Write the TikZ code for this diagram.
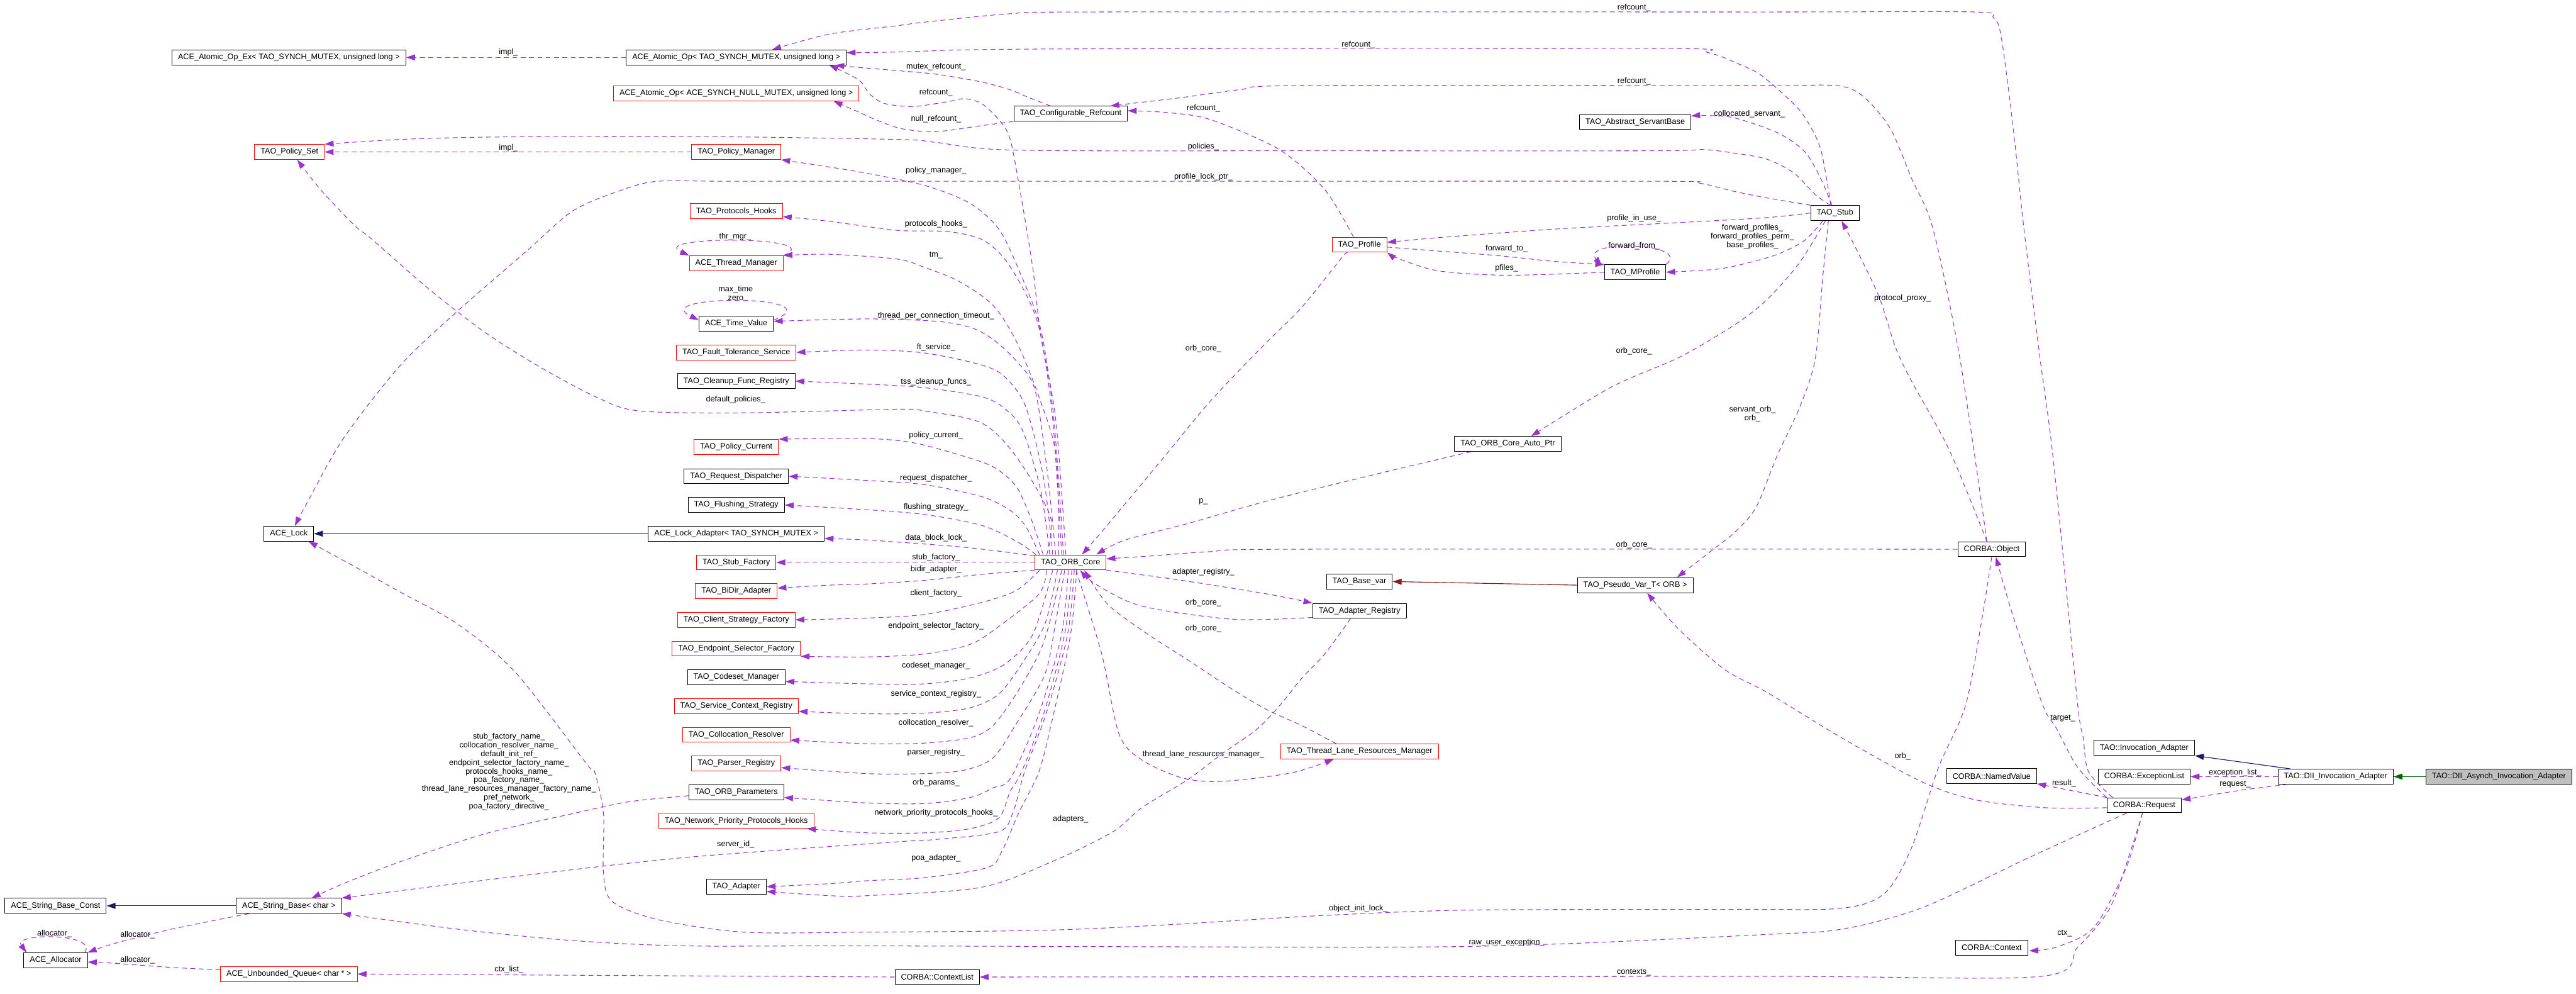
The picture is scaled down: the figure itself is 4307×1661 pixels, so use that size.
\documentclass[tikz,border=0pt]{standalone}
\usepackage{fontspec}
\setmainfont{Liberation Sans}
\usetikzlibrary{arrows.meta,calc}
\definecolor{Orchid}{HTML}{9A32CD}
\definecolor{MidBlue}{HTML}{191970}
\definecolor{DkGreen}{HTML}{006400}
\definecolor{Brick}{HTML}{8B1A1A}
\definecolor{Grey75}{HTML}{BFBFBF}
\newcommand{\dxfont}{\fontsize{6.65}{7.3}\selectfont}
\tikzset{
  cls/.style={rectangle, draw=black, fill=white, line width=0.5pt, inner xsep=5pt,
              inner ysep=0pt, minimum height=12.5pt, font=\dxfont},
  clr/.style={cls, draw=red},
  clg/.style={cls, fill=Grey75},
  lbl/.style={font=\dxfont, align=center, inner sep=0pt},
  use/.style={draw=Orchid, line width=0.55pt, dash pattern=on 4pt off 3pt,
              -{Triangle[length=7.5pt,width=5pt]}},
  pub/.style={draw=MidBlue, line width=0.6pt, -{Triangle[length=7.5pt,width=5pt]}},
  prot/.style={draw=DkGreen, line width=0.6pt, -{Triangle[length=7.5pt,width=5pt]}},
  priv/.style={draw=Brick, line width=0.6pt, -{Triangle[length=7.5pt,width=5pt]}},
}
\begin{document}
\begin{tikzpicture}[x=0.5pt,y=-0.5pt]
\path[use as bounding box, fill=white] (0,0) rectangle (4307,1661);

% ---------------- left columns ----------------------------------------------------
\node[cls] (opex) at (483,96) {ACE\_Atomic\_Op\_Ex< TAO\_SYNCH\_MUTEX, unsigned long >};
\node[cls] (opmx) at (1231,96) {ACE\_Atomic\_Op< TAO\_SYNCH\_MUTEX, unsigned long >};
\node[clr] (opnull) at (1231,156) {ACE\_Atomic\_Op< ACE\_SYNCH\_NULL\_MUTEX, unsigned long >};
\node[clr] (polset) at (484,254) {TAO\_Policy\_Set};
\node[clr] (polmgr) at (1231,254) {TAO\_Policy\_Manager};
\node[clr] (prothk) at (1231,353) {TAO\_Protocols\_Hooks};
\node[clr] (thrmgr) at (1231,440) {ACE\_Thread\_Manager};
\node[cls] (timeval) at (1231,541) {ACE\_Time\_Value};
\node[clr] (ftsvc) at (1231,589) {TAO\_Fault\_Tolerance\_Service};
\node[cls] (cleanup) at (1231,637) {TAO\_Cleanup\_Func\_Registry};
\node[clr] (polcur) at (1231,747) {TAO\_Policy\_Current};
\node[cls] (reqdisp) at (1231,796) {TAO\_Request\_Dispatcher};
\node[cls] (flush) at (1231,844) {TAO\_Flushing\_Strategy};
\node[cls] (lock) at (483,892) {ACE\_Lock};
\node[cls] (lockad) at (1231,892) {ACE\_Lock\_Adapter< TAO\_SYNCH\_MUTEX >};
\node[clr] (stubfac) at (1231,940) {TAO\_Stub\_Factory};
\node[clr] (bidir) at (1231,988) {TAO\_BiDir\_Adapter};
\node[clr] (clfac) at (1231,1036) {TAO\_Client\_Strategy\_Factory};
\node[clr] (epfac) at (1231,1084) {TAO\_Endpoint\_Selector\_Factory};
\node[cls] (codeset) at (1231,1132) {TAO\_Codeset\_Manager};
\node[clr] (scr) at (1231,1180) {TAO\_Service\_Context\_Registry};
\node[clr] (colres) at (1231,1228) {TAO\_Collocation\_Resolver};
\node[clr] (parser) at (1231,1276) {TAO\_Parser\_Registry};
\node[cls] (orbpar) at (1231,1324) {TAO\_ORB\_Parameters};
\node[clr] (nphooks) at (1231,1372) {TAO\_Network\_Priority\_Protocols\_Hooks};
\node[cls] (adapter) at (1231,1482) {TAO\_Adapter};
\node[cls] (strconst) at (93,1514) {ACE\_String\_Base\_Const};
\node[cls] (strbase) at (483,1514) {ACE\_String\_Base< char >};
\node[cls] (alloc) at (93,1605) {ACE\_Allocator};
\node[clr] (queue) at (483,1628) {ACE\_Unbounded\_Queue< char * >};

% ---------------- middle ----------------------------------------------------------
\node[cls] (cfgref) at (1790,190) {TAO\_Configurable\_Refcount};
\node[clr] (orbcore) at (1790,940) {TAO\_ORB\_Core};
\node[cls] (ctxlist) at (1567,1633) {CORBA::ContextList};
\node[cls] (servbase) at (2734,204) {TAO\_Abstract\_ServantBase};
\node[clr] (profile) at (2273,409) {TAO\_Profile};
\node[cls] (mprof) at (2734,455) {TAO\_MProfile};
\node[cls] (autoptr) at (2521,742) {TAO\_ORB\_Core\_Auto\_Ptr};
\node[cls] (basevar) at (2273,972) {TAO\_Base\_var};
\node[cls] (pseudo) at (2734,978) {TAO\_Pseudo\_Var\_T< ORB >};
\node[cls] (adreg) at (2273,1021) {TAO\_Adapter\_Registry};
\node[clr] (tlrm) at (2273,1256) {TAO\_Thread\_Lane\_Resources\_Manager};

% ---------------- right -----------------------------------------------------------
\node[cls] (stub) at (3068,356) {TAO\_Stub};
\node[cls] (object) at (3330,918) {CORBA::Object};
\node[cls] (invad) at (3585,1250) {TAO::Invocation\_Adapter};
\node[cls] (namedval) at (3330,1297) {CORBA::NamedValue};
\node[cls] (exclist) at (3585,1298) {CORBA::ExceptionList};
\node[cls] (dii) at (3905,1298) {TAO::DII\_Invocation\_Adapter};
\node[clg] (async) at (4178,1298) {TAO::DII\_Asynch\_Invocation\_Adapter};
\node[cls] (request) at (3585,1346) {CORBA::Request};
\node[cls] (context) at (3330,1584) {CORBA::Context};

% ---------------- edge labels -----------------------------------------------------
\node[lbl] (limpla) at (850,88) {impl\_};
\node[lbl] (limplb) at (850,247) {impl\_};
\node[lbl] (lthr) at (1229,396) {thr\_mgr\_};
\node[lbl] (lmax) at (1230,490) {max\_time\\zero};
\node[lbl] (ldefpol) at (1230,668) {default\_policies\_};
\node[lbl] (lrefa) at (2732,13) {refcount\_};
\node[lbl] (lrefb) at (2271,75) {refcount\_};
\node[lbl] (lmutex) at (1565,112) {mutex\_refcount\_};
\node[lbl] (lrefc) at (2732,136) {refcount\_};
\node[lbl] (lrefd) at (1565,155) {refcount\_};
\node[lbl] (lrefe) at (2012,181) {refcount\_};
\node[lbl] (lnull) at (1565,199) {null\_refcount\_};
\node[lbl] (lcoll) at (2925,190) {collocated\_servant\_};
\node[lbl] (lpol) at (2012,245) {policies\_};
\node[lbl] (lpolmgr) at (1565,285) {policy\_manager\_};
\node[lbl] (lplock) at (2012,296) {profile\_lock\_ptr\_};
\node[lbl] (lprothk) at (1565,375) {protocols\_hooks\_};
\node[lbl] (lpiu) at (2732,365) {profile\_in\_use\_};
\node[lbl] (lfwd) at (2930,396) {forward\_profiles\_\\forward\_profiles\_perm\_\\base\_profiles\_};
\node[lbl] (lfwdto) at (2519,415) {forward\_to\_};
\node[lbl] (lfwdfrom) at (2732,411) {forward\_from\_};
\node[lbl] (ltm) at (1565,427) {tm\_};
\node[lbl] (lpfiles) at (2519,448) {pfiles\_};
\node[lbl] (ltpc) at (1565,528) {thread\_per\_connection\_timeout\_};
\node[lbl] (lft) at (1565,581) {ft\_service\_};
\node[lbl] (ltss) at (1565,639) {tss\_cleanup\_funcs\_};
\node[lbl] (lpolcur) at (1565,728) {policy\_current\_};
\node[lbl] (lreqd) at (1565,799) {request\_dispatcher\_};
\node[lbl] (lflush) at (1565,848) {flushing\_strategy\_};
\node[lbl] (lorba) at (2012,583) {orb\_core\_};
\node[lbl] (lorbb) at (2732,587) {orb\_core\_};
\node[lbl] (lservorb) at (2930,692) {servant\_orb\_\\orb\_};
\node[lbl] (lp) at (2012,838) {p\_};
\node[lbl] (ldbl) at (1565,899) {data\_block\_lock\_};
\node[lbl] (lstubf) at (1565,932) {stub\_factory\_};
\node[lbl] (lbidir) at (1565,952) {bidir\_adapter\_};
\node[lbl] (lclf) at (1565,992) {client\_factory\_};
\node[lbl] (lepf) at (1565,1047) {endpoint\_selector\_factory\_};
\node[lbl] (lcodeset) at (1565,1113) {codeset\_manager\_};
\node[lbl] (lscr) at (1565,1160) {service\_context\_registry\_};
\node[lbl] (lcolres) at (1565,1208) {collocation\_resolver\_};
\node[lbl] (lparser) at (1565,1258) {parser\_registry\_};
\node[lbl] (lorbpar) at (1565,1308) {orb\_params\_};
\node[lbl] (lnph) at (1565,1359) {network\_priority\_protocols\_hooks\_};
\node[lbl] (lpoa) at (1565,1435) {poa\_adapter\_};
\node[lbl] (ladreg) at (2012,956) {adapter\_registry\_};
\node[lbl] (lorbc) at (2012,1007) {orb\_core\_};
\node[lbl] (lorbd) at (2012,1051) {orb\_core\_};
\node[lbl] (lorbe) at (2732,911) {orb\_core\_};
\node[lbl] (ltlrm) at (2012,1261) {thread\_lane\_resources\_manager\_};
\node[lbl] (ladapters) at (1790,1369) {adapters\_};
\node[lbl] (lnames) at (851,1290) {stub\_factory\_name\_\\collocation\_resolver\_name\_\\default\_init\_ref\_\\endpoint\_selector\_factory\_name\_\\protocols\_hooks\_name\_\\poa\_factory\_name\_\\thread\_lane\_resources\_manager\_factory\_name\_\\pref\_network\_\\poa\_factory\_directive\_};
\node[lbl] (lsrvid) at (1230,1411) {server\_id\_};
\node[lbl] (lalla) at (91,1561) {allocator\_};
\node[lbl] (lallb) at (230,1563) {allocator\_};
\node[lbl] (lallc) at (230,1605) {allocator\_};
\node[lbl] (lctxl) at (851,1621) {ctx\_list\_};
\node[lbl] (loil) at (2271,1519) {object\_init\_lock\_};
\node[lbl] (lraw) at (2519,1575) {raw\_user\_exception\_};
\node[lbl] (lctxs) at (2732,1625) {contexts\_};
\node[lbl] (lproxy) at (3181,499) {protocol\_proxy\_};
\node[lbl] (ltarget) at (3449,1200) {target\_};
\node[lbl] (lorb) at (3181,1264) {orb\_};
\node[lbl] (lexc) at (3737,1291) {exception\_list\_};
\node[lbl] (lresult) at (3451,1309) {result\_};
\node[lbl] (lreq) at (3737,1311) {request\_};
\node[lbl] (lctx) at (3452,1560) {ctx\_};

% ---------------- inheritance -----------------------------------------------------
\draw[pub] (lockad.west) -- (lock.east);
\draw[pub] (strbase.west) -- (strconst.east);
\draw[pub] ($(dii.north west)+(21,0)$) -- (invad.south east);
\draw[prot] (async.west) -- (dii.east);
\draw[priv] (pseudo.west) -- (basevar.east);

% ---------------- atomic ops, refcounts, policies ---------------------------------
\draw[use] (opmx.west) -- (opex.east);
\draw[use] (polmgr.west) -- (polset.east);
\draw[use] plot[smooth] coordinates {($(stub.north)+(-8,0)$) (3035,325) (2999,289) (2954,266) (2900,256) (2847,250) (2770,252) (2200,252) (1699,251) (1565,238) (1500,233) (1148,228) (832,229) (670,233) (polset.north east)};
\draw[use] plot[smooth] coordinates {($(orbcore.north west)+(20,0)$) (1756,863) (1699,763) (1641,707) (1546,687) (1500,684) (1244,690) (1071,687) (1004,667) (909,617) (813,557) (717,483) (622,400) (593,377) (536,317) ($(polset.south)+(13,0)$)};
\draw[use] plot[smooth] coordinates {(stub.north west) (2950,330) (2900,320) (2840,306) (2770,303) (2000,303) (1244,303) (1100,303) (1033,320) (957,353) (880,420) (765,520) (670,610) (574,733) (512,843) ($(lock.north)+(10,0)$)};
\draw[use] plot[smooth] coordinates {($(orbcore.north west)+(0,2)$) (1660,920) (1594,913) (1500,906) (1440,902) ($(lockad.east)+(0,8)$)};
\draw[use] plot[smooth] coordinates {(object.south) (3313,1039) (3286,1180) (3241,1283) (3196,1417) (3151,1493) (3079,1518) (2900,1520) (2464,1521) (2215,1530) (1928,1547) (1737,1555) (1450,1558) (1244,1558) (1100,1537) (1024,1507) (1009,1460) (1009,1360) (995,1293) (981,1277) (861,1123) (765,1043) (670,990) (593,947) ($(lock.south east)+(-9,0)$)};
\draw[use] plot[smooth] coordinates {($(request.north west)+(10,0)$) (3492,1290) (3483,1233) (3474,1180) (3447,905) (3429,733) (3411,600) (3384,383) (3366,214) (3346,62) (3333,30) (3300,20) (2950,20) (1833,20) (1689,23) (1546,37) (1500,43) (1387,57) ($(opmx.north)+(60,0)$)};
\draw[use] plot[smooth] coordinates {($(stub.north)+(-7,0)$) (3044,249) (3017,195) (2990,165) (2945,126) (2914,110) (2856,88) (2770,81) (1737,82) (1500,87) ($(opmx.east)+(0,-8)$)};
\draw[use] plot[smooth] coordinates {($(cfgref.north)+(-34,0)$) (1720,163) (1689,150) (1641,137) (1565,124) (1500,118) (1450,114) ($(opmx.south east)+(-19,0)$)};
\draw[use] plot[smooth] coordinates {($(object.north)+(-8,0)$) (3277,600) (3232,383) (3196,298) (3160,214) (3115,161) (3070,143) (2950,143) (2177,143) (2072,150) (1976,163) ($(cfgref.north east)+(-29,0)$)};
\draw[use] plot[smooth] coordinates {($(profile.north)+(-10,0)$) (2215,317) (2139,250) (2024,200) (1950,188) ($(cfgref.east)+(0,-5)$)};
\draw[use] plot[smooth] coordinates {(cfgref.south west) (1641,210) (1565,220) (1507,215) (1464,200) (1435,187) ($(opnull.south east)+(-43,0)$)};
\draw[use] plot[smooth] coordinates {($(stub.north)+(-5,0)$) (3044,298) (3017,253) (2972,222) (2900,197) (2850,193) ($(servbase.east)+(0,-10)$)};

% ---------------- ORB core, upper fan ---------------------------------------------
\draw[use] plot[smooth] coordinates {($(orbcore.north west)+(2,0)$) (1700,905) (1641,878) (1546,860) (1450,852) (flush.east)};
\draw[use] plot[smooth] coordinates {($(orbcore.north west)+(8,0)$) (1715,880) (1689,853) (1641,830) (1546,810) (1450,803) (reqdisp.east)};
\draw[use] plot[smooth] coordinates {($(orbcore.north west)+(14,0)$) (1725,870) (1699,813) (1660,780) (1603,760) (1527,740) (1450,733) (polcur.north east)};
\draw[use] plot[smooth] coordinates {($(orbcore.north west)+(25,0)$) (1740,820) (1710,720) (1680,683) (1641,663) (1546,648) (1450,642) (cleanup.east)};
\draw[use] plot[smooth] coordinates {($(orbcore.north west)+(30,0)$) (1745,800) (1715,680) (1680,630) (1641,610) (1546,590) (1450,585) (ftsvc.east)};
\draw[use] plot[smooth] coordinates {($(orbcore.north west)+(35,0)$) (1750,780) (1730,650) (1699,603) (1660,567) (1622,547) (1565,537) (1450,533) ($(timeval.east)+(0,-4)$)};
\draw[use] plot[smooth] coordinates {($(orbcore.north west)+(40,0)$) (1766,763) (1737,663) (1699,570) (1660,510) (1603,470) (1546,447) (1500,433) (1387,425) (thrmgr.north east)};
\draw[use] plot[smooth] coordinates {($(orbcore.north west)+(45,0)$) (1760,700) (1740,560) (1718,497) (1680,433) (1641,400) (1584,387) (1500,385) (1387,370) ($(prothk.east)+(0,9)$)};
\draw[use] plot[smooth] coordinates {($(orbcore.north west)+(48,0)$) (1762,700) (1740,550) (1703,450) (1670,383) (1622,340) (1546,310) (1435,287) (polmgr.south east)};
\draw[use] plot[smooth] coordinates {($(orbcore.north west)+(52,0)$) (1765,700) (1740,560) (1727,450) (1708,333) (1689,233) (1670,200) (1641,173) (1613,165) (1584,170) (1527,178) (1479,173) (1454,157) (1435,133) ($(opmx.south east)+(-29,0)$)};

% ---------------- ORB core, lower fan ---------------------------------------------
\draw[use] (orbcore.west) -- (stubfac.east);
\draw[use] plot[smooth] coordinates {(orbcore.south west) (1641,960) (1546,970) (1450,976) (1387,978) ($(bidir.east)+(0,-5)$)};
\draw[use] plot[smooth] coordinates {($(orbcore.south west)+(8,0)$) (1699,987) (1641,1007) (1546,1027) (1450,1033) (clfac.east)};
\draw[use] plot[smooth] coordinates {($(orbcore.south west)+(20,0)$) (1737,993) (1670,1047) (1622,1077) (1546,1093) (1450,1098) (epfac.south east)};
\draw[use] plot[smooth] coordinates {($(orbcore.south west)+(30,0)$) (1727,1060) (1680,1110) (1622,1133) (1546,1143) (1450,1143) ($(codeset.east)+(0,7)$)};
\draw[use] plot[smooth] coordinates {($(orbcore.south west)+(38,0)$) (1747,1043) (1708,1110) (1670,1160) (1622,1183) (1546,1192) (1450,1193) ($(scr.east)+(0,9)$)};
\draw[use] plot[smooth] coordinates {($(orbcore.south west)+(45,0)$) (1755,1040) (1737,1093) (1699,1160) (1660,1213) (1622,1233) (1546,1242) (1450,1243) ($(colres.east)+(0,9)$)};
\draw[use] plot[smooth] coordinates {($(orbcore.south west)+(50,0)$) (1765,1040) (1747,1127) (1699,1210) (1660,1267) (1613,1287) (1546,1293) (1450,1293) ($(parser.east)+(0,7)$)};
\draw[use] plot[smooth] coordinates {($(orbcore.south west)+(56,0)$) (1775,1060) (1737,1193) (1690,1300) (1660,1317) (1622,1333) (1546,1343) (1450,1342) ($(orbpar.east)+(0,9)$)};
\draw[use] plot[smooth] coordinates {($(orbcore.south west)+(62,0)$) (1780,1060) (1745,1193) (1708,1290) (1689,1323) (1670,1367) (1622,1385) (1546,1392) (1450,1392) ($(nphooks.south east)+(-12,0)$)};
\draw[use] plot[smooth] coordinates {($(orbcore.south west)+(66,0)$) (1785,1060) (1750,1190) (1713,1290) (1694,1357) (1670,1390) (1565,1403) (1500,1407) (1148,1433) (861,1465) (strbase.north east)};
\draw[use] plot[smooth] coordinates {($(orbcore.south west)+(70,0)$) (1790,1060) (1760,1200) (1737,1290) (1704,1357) (1675,1423) (1651,1450) (1546,1467) (1450,1472) (1387,1477) (adapter.east)};

% ---------------- ORB core, right side --------------------------------------------
\draw[use] plot[smooth] coordinates {($(profile.south)+(-19,0)$) (2244,430) (2177,513) (2110,580) (2024,670) (1947,763) (1852,877) ($(orbcore.north)+(19,0)$)};
\draw[use] plot[smooth] coordinates {($(autoptr.south west)+(28,0)$) (2311,790) (2120,837) (1986,875) (1880,903) ($(orbcore.north)+(43,0)$)};
\draw[use] plot[smooth] coordinates {(object.west) (2167,918) (2024,922) (1928,929) ($(orbcore.east)+(0,-6)$)};
\draw[use] plot[smooth] coordinates {(orbcore.south east) (1976,970) (2120,993) (adreg.north west)};
\draw[use] plot[smooth] coordinates {($(adreg.west)+(0,11)$) (2062,1035) (1909,1013) (1833,977) ($(orbcore.south)+(16,0)$)};
\draw[use] plot[smooth] coordinates {($(tlrm.north)+(-39,0)$) (2177,1213) (2120,1187) (2062,1153) (1986,1103) (1919,1060) (1852,1010) ($(orbcore.south)+(23,0)$)};
\draw[use] plot[smooth] coordinates {($(orbcore.south)+(9,0)$) (1842,1093) (1871,1227) (1909,1270) (1976,1300) (2043,1306) (2158,1292) ($(tlrm.south)+(-43,0)$)};
\draw[use] plot[smooth] coordinates {($(adreg.south)+(-15,0)$) (2215,1093) (2177,1133) (2139,1180) (2100,1220) (2043,1260) (1986,1303) (1909,1350) (1861,1390) (1766,1437) (1641,1483) (1450,1497) (1387,1497) ($(adapter.east)+(0,8)$)};

% ---------------- stub, profiles --------------------------------------------------
\draw[use] plot[smooth] coordinates {($(stub.south)+(-11,0)$) (3048,459) (3035,600) (3008,683) (2972,760) (2936,848) (2900,890) (2866,917) ($(pseudo.north)+(70,0)$)};
\draw[use] plot[smooth] coordinates {($(stub.south)+(-16,0)$) (3008,440) (2954,501) (2900,543) (2808,597) (2694,647) ($(autoptr.north)+(39,0)$)};
\draw[use] plot[smooth] coordinates {($(stub.south)+(-20,0)$) (3017,402) (2972,425) (2920,440) (2870,450) (mprof.east)};
\draw[use] plot[smooth] coordinates {(stub.west) (2950,364) (2789,373) (2598,383) (2407,397) ($(profile.east)+(0,-4)$)};
\draw[use] plot[smooth] coordinates {($(profile.east)+(0,4)$) (2410,420) (2502,427) (2600,437) (mprof.north west)};
\draw[use] plot[smooth] coordinates {(mprof.west) (2521,460) (2407,453) (2340,433) (profile.south east)};
\draw[use] (mprof.north east) .. controls (2830,405) and (2640,400) .. ($(mprof.north west)+(-4,2)$);
\draw[use] (thrmgr.north east) .. controls (1390,394) and (1080,394) .. (thrmgr.north west);
\draw[use] ($(timeval.east)+(0,-6)$) .. controls (1400,492) and (1080,492) .. ($(timeval.west)+(0,-6)$);

% ---------------- strings, allocators, contexts -----------------------------------
\draw[use] ($(alloc.north east)+(-5,0)$) .. controls (165,1559) and (20,1559) .. ($(alloc.north west)+(5,0)$);
\draw[use] plot[smooth] coordinates {($(strbase.south west)+(22,0)$) (287,1553) (191,1577) (alloc.north east)};
\draw[use] plot[smooth] coordinates {($(queue.west)+(0,-7)$) (287,1617) (191,1610) ($(alloc.east)+(0,3)$)};
\draw[use] (ctxlist.west) -- (queue.east);
\draw[use] plot[smooth] coordinates {($(orbpar.west)+(0,6)$) (1052,1340) (957,1360) (813,1393) (670,1440) (574,1477) ($(strbase.north)+(38,0)$)};
\draw[use] plot[smooth] coordinates {($(request.south)+(-3,0)$) (3564,1417) (3528,1517) (3474,1583) (3411,1632) (2950,1632) (ctxlist.east)};
\draw[use] plot[smooth] coordinates {($(request.south west)+(33,0)$) (3393,1433) (3214,1517) (3079,1553) (2950,1562) (2598,1578) (2311,1583) (1450,1581) (1148,1581) (957,1572) (765,1553) (strbase.south east)};

% ---------------- request, object, adapters ---------------------------------------
\draw[use] plot[smooth] coordinates {($(request.west)+(0,4)$) (3420,1350) (3304,1337) (3214,1307) (3079,1233) (2954,1157) (2885,1120) (2808,1053) ($(pseudo.south)+(20,0)$)};
\draw[use] plot[smooth] coordinates {(request.north west) (3474,1283) (3438,1217) (3416,1180) (3375,1058) (3357,1001) ($(object.south)+(7,0)$)};
\draw[use] plot[smooth] coordinates {($(object.north)+(-8,0)$) (3259,752) (3196,637) (3169,580) (3142,497) (3106,421) ($(stub.south)+(11,0)$)};
\draw[use] (request.north west) -- (namedval.south east);
\draw[use] plot[smooth] coordinates {($(request.south)+(-3,0)$) (3555,1450) (3501,1550) (3438,1583) ($(context.east)+(2,5)$)};
\draw[use] (dii.west) -- (exclist.east);
\draw[use] plot[smooth] coordinates {($(dii.south west)+(17,0)$) (3752,1320) (3689,1330) ($(request.east)+(0,-9)$)};

\end{tikzpicture}
\end{document}
